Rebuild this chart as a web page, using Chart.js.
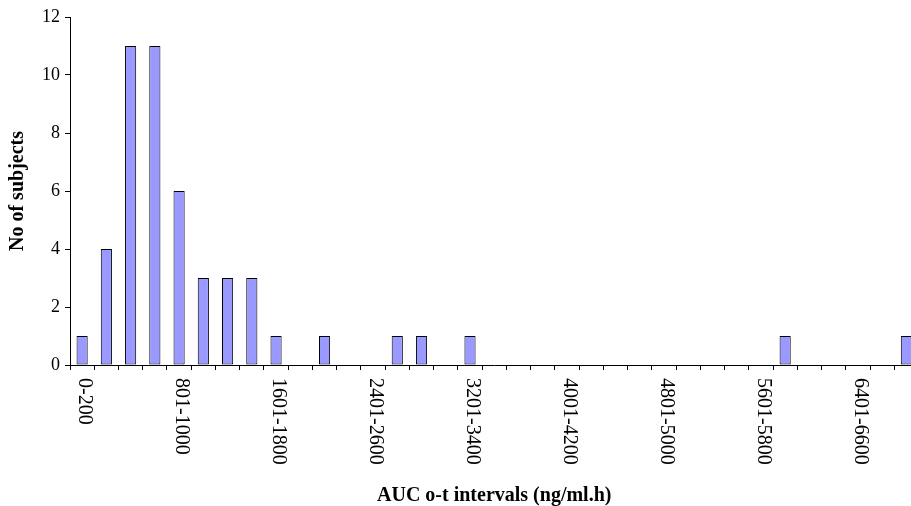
<!DOCTYPE html>
<html>
<head>
<meta charset="utf-8">
<script src="https://cdn.jsdelivr.net/npm/chart.js@4/dist/chart.umd.min.js"></script>
<style>
    html, body { margin: 0; padding: 0; background: #fff; overflow: hidden; }
    #wrap { width: 940px; height: 506px; position: relative; }
</style>
</head>
<body>
<div id="wrap"><canvas id="aucChart"></canvas></div>
<script>
// AUC intervals (ng/ml.h), 200 wide
const intervals = [
    '0-200', '201-400', '401-600', '601-800', '801-1000', '1001-1200', '1201-1400',
    '1401-1600', '1601-1800', '1801-2000', '2001-2200', '2201-2400', '2401-2600',
    '2601-2800', '2801-3000', '3001-3200', '3201-3400', '3401-3600', '3601-3800',
    '3801-4000', '4001-4200', '4201-4400', '4401-4600', '4601-4800', '4801-5000',
    '5001-5200', '5201-5400', '5401-5600', '5601-5800', '5801-6000', '6001-6200',
    '6201-6400', '6401-6600', '6601-6800', '6801-7000'
];

// number of subjects in each interval
const subjects = [
    1, 4, 11, 11, 6, 3, 3, 3, 1, 0, 1, 0, 0, 1, 1, 0, 1, 0,
    0, 0, 0, 0, 0, 0, 0, 0, 0, 0, 0, 1, 0, 0, 0, 0, 1
];

const yTicks = [0, 2, 4, 6, 8, 10, 12];
const labelEvery = 4;

const serif = "'Liberation Serif', 'Times New Roman', serif";

// x labels are written top to bottom, so draw them by hand
const verticalLabels = {
    id: 'verticalLabels',
    afterDraw(chart) {
        const xScale = chart.scales.x;
        const ctx = chart.ctx;
        ctx.save();
        ctx.font = '20px ' + serif;
        ctx.fillStyle = '#000';
        ctx.textAlign = 'left';
        ctx.textBaseline = 'middle';
        intervals.forEach((lab, i) => {
            if (i % labelEvery !== 0) return;
            const x = xScale.getPixelForValue(i) + 2;
            ctx.save();
            ctx.translate(x, xScale.top + 13);
            ctx.rotate(Math.PI / 2);
            ctx.fillText(lab, 0, 0);
            ctx.restore();
        });
        ctx.restore();
    }
};

const ctx = document.getElementById('aucChart').getContext('2d');
new Chart(ctx, {
    type: 'bar',
    data: {
        labels: intervals,
        datasets: [{
            label: 'No of subjects',
            data: subjects,
            backgroundColor: '#9999FF',
            borderColor: '#000000',
            borderWidth: 1,
            borderSkipped: false,
            barPercentage: 0.46,
            categoryPercentage: 1
        }]
    },
    options: {
        responsive: true,
        maintainAspectRatio: false,
        animation: false,
        layout: {
            padding: { top: 17, right: 21.5, bottom: 0, left: 0 }
        },
        plugins: {
            legend: { display: false },
            tooltip: { enabled: false }
        },
        scales: {
            x: {
                offset: true,
                grid: {
                    offset: true,
                    drawOnChartArea: false,
                    color: '#000',
                    tickLength: 5,
                    tickColor: '#000'
                },
                border: { color: '#000', width: 1 },
                ticks: {
                    autoSkip: false,
                    maxRotation: 0,
                    callback: () => ''
                },
                title: {
                    display: true,
                    text: 'AUC o-t intervals (ng/ml.h)',
                    color: '#000',
                    font: { family: serif, size: 20, weight: 'bold', lineHeight: 1 },
                    padding: { top: 0, bottom: 0 }
                },
                afterFit(scale) { scale.height = 141; }
            },
            y: {
                min: 0,
                max: 12,
                afterBuildTicks(scale) {
                    scale.ticks = yTicks.map(v => ({ value: v }));
                },
                grid: {
                    drawOnChartArea: false,
                    color: '#000',
                    tickLength: 5,
                    tickColor: '#000'
                },
                border: { color: '#000', width: 1 },
                ticks: {
                    color: '#000',
                    padding: 5,
                    font: { family: serif, size: 18 }
                },
                title: {
                    display: true,
                    text: 'No of subjects',
                    color: '#000',
                    font: { family: serif, size: 20, weight: 'bold', lineHeight: 1 },
                    padding: { top: 8, bottom: 0 }
                },
                afterFit(scale) { scale.width = 70; }
            }
        }
    },
    plugins: [verticalLabels]
});
</script>
</body>
</html>
